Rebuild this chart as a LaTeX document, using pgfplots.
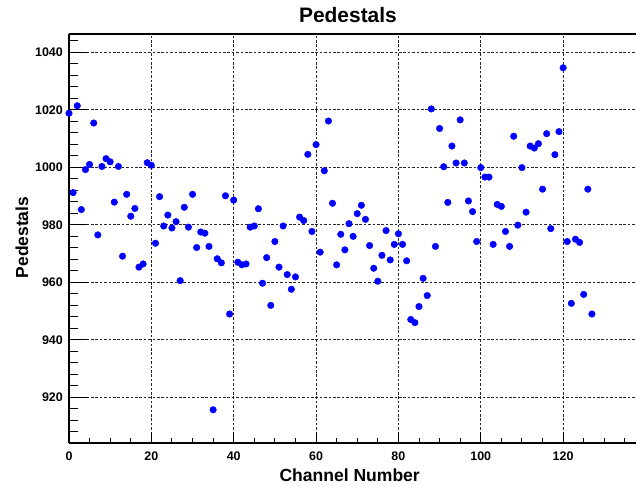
\documentclass[border=0pt]{standalone}
\usepackage{fontspec}
\setmainfont{Liberation Sans}
\usepackage{pgfplots}
\pgfplotsset{compat=1.18}
\begin{document}
\begin{tikzpicture}
\begin{axis}[
  name=ax, at={(0,0)}, anchor=south west,
  scale only axis, width=567bp, height=409bp,
  xmin=0, xmax=137.7, ymin=904.15, ymax=1046.35,
  axis x line=box, axis y line=left,
  axis line style={-, line width=1.1bp},
  every inner y axis line/.append style={-},
  every outer y axis line/.append style={-},
  xtick={0,20,...,120}, ytick={920,940,...,1040},
  minor xtick={5,10,15,25,30,35,45,50,55,65,70,75,85,90,95,105,110,115,125,130,135},
  minor ytick={908,912,916,924,928,932,936,944,948,952,956,964,968,972,976,984,988,992,996,1004,1008,1012,1016,1024,1028,1032,1036,1044},
  xtick pos=bottom, ytick pos=left,
  tick align=inside,
  xtick style={black, line width=0.9bp, /pgfplots/major tick length=11bp, /pgfplots/minor tick length=5.5bp},
  ytick style={black, line width=0.9bp, /pgfplots/major tick length=18bp, /pgfplots/minor tick length=9bp},
  grid=major,
  grid style={black!85, line width=1bp, dash pattern=on 2.6bp off 1.8bp},
  /pgf/number format/assume math mode=true,
  /pgf/number format/1000 sep={},
  ticklabel style={font=\fontsize{12.5}{14}\selectfont\bfseries},
  xticklabel style={inner sep=0pt, anchor=north, yshift=-9bp},
  yticklabel style={inner sep=0pt, anchor=east, xshift=-6bp},
  title={Pedestals},
  title style={font=\fontsize{21}{24}\selectfont\bfseries, at={(axis description cs:0.492,1.0147)}, anchor=base, inner sep=0pt},
  xlabel={Channel Number},
  xlabel style={font=\fontsize{17.6}{20}\selectfont\bfseries, at={(axis description cs:0.495,-0.0946)}, anchor=base, inner sep=0pt},
  ylabel={Pedestals},
  ylabel style={font=\fontsize{17.5}{20}\selectfont\bfseries, at={(axis description cs:-0.0829,0.5024)}, anchor=center, rotate=0, inner sep=0pt},
  clip=false,
]
\addplot[only marks, mark=*, mark size=3.3bp, color=blue, mark options={draw=blue, fill=blue}] coordinates {
(0,1018.8) (1,991.2) (2,1021.4) (3,985.3) (4,999.2) (5,1001.0) (6,1015.4) (7,976.5)
(8,1000.3) (9,1003.0) (10,1001.9) (11,987.9) (12,1000.3) (13,969.1) (14,990.6) (15,983.0)
(16,985.7) (17,965.3) (18,966.4) (19,1001.6) (20,1000.7) (21,973.6) (22,989.8) (23,979.6)
(24,983.4) (25,978.9) (26,981.1) (27,960.6) (28,986.1) (29,979.2) (30,990.6) (31,972.1)
(32,977.5) (33,977.1) (34,972.5) (35,915.7) (36,968.2) (37,966.8) (38,990.1) (39,949.0)
(40,988.6) (41,967.0) (42,966.1) (43,966.4) (44,979.2) (45,979.6) (46,985.6) (47,959.7)
(48,968.6) (49,952.0) (50,974.2) (51,965.3) (52,979.6) (53,962.7) (54,957.6) (55,961.9)
(56,982.7) (57,981.5) (58,1004.5) (59,977.7) (60,1007.9) (61,970.5) (62,998.8) (63,1016.1)
(64,987.5) (65,966.1) (66,976.7) (67,971.3) (68,980.4) (69,976.0) (70,983.9) (71,986.8)
(72,981.9) (73,972.8) (74,964.9) (75,960.4) (76,969.4) (77,978.0) (78,967.8) (79,973.2)
(80,976.9) (81,973.2) (82,967.5) (83,947.1) (84,946.0) (85,951.6) (86,961.4) (87,955.4)
(88,1020.3) (89,972.5) (90,1013.5) (91,1000.2) (92,987.8) (93,1007.4) (94,1001.5) (95,1016.5)
(96,1001.5) (97,988.3) (98,984.6) (99,974.2) (100,999.9) (101,996.6) (102,996.6) (103,973.2)
(104,987.1) (105,986.4) (106,977.7) (107,972.5) (108,1010.8) (109,979.9) (110,999.9) (111,984.4)
(112,1007.4) (113,1006.7) (114,1008.2) (115,992.4) (116,1011.7) (117,978.7) (118,1004.4) (119,1012.4)
(120,1034.6) (121,974.2) (122,952.7) (123,975.0) (124,973.9) (125,955.8) (126,992.4) (127,949.0)
};
\end{axis}
\pgfresetboundingbox
\path (-69bp,-44bp) rectangle (567bp,443bp);
\end{tikzpicture}
\end{document}
